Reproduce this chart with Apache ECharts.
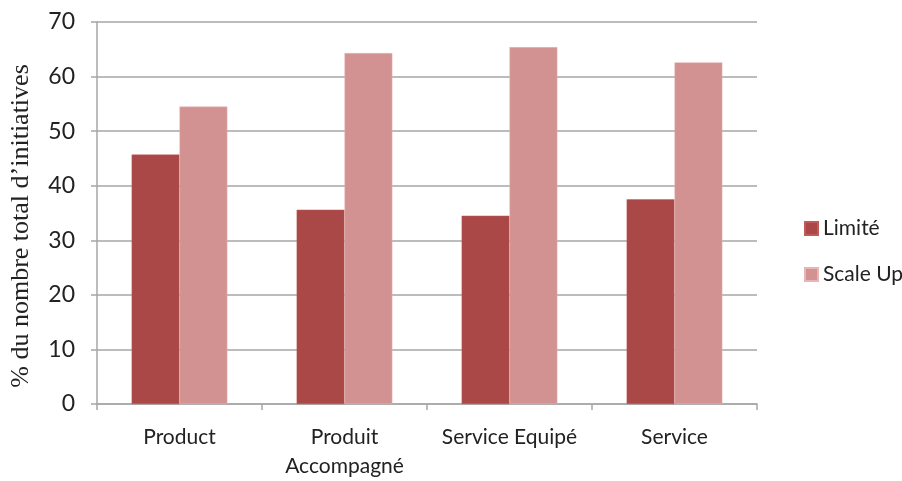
<!DOCTYPE html>
<html>
<head>
<meta charset="utf-8">
<script src="https://cdn.jsdelivr.net/npm/echarts@6/dist/echarts.min.js"></script>
<style>
  html, body { margin: 0; padding: 0; background: #fff; }
  #chart { width: 902px; height: 481px; }
</style>
</head>
<body>
<div id="chart"></div>
<script>
// categories and values
const categories = ['Product', 'Produit\nAccompagné', 'Service Equipé', 'Service']
const limiteValues = [45.7, 35.6, 34.5, 37.5]
const scaleUpValues = [54.5, 64.3, 65.4, 62.6]
const yTicks = { min: 0, max: 70, interval: 10 }

const gridColor = '#a6a6a6'
const labelFont = 'Lato, "Open Sans", sans-serif'

let myChart = echarts.init(document.getElementById('chart'))
let option = {
  animation: false,
  grid: {
    left: 97,
    right: 145,
    top: 22,
    bottom: 72,
    containLabel: false
  },
  legend: {
    orient: 'vertical',
    left: 799,
    top: 213,
    itemGap: 25,
    itemWidth: 13,
    itemHeight: 13,
    icon: 'rect',
    textStyle: {
      fontFamily: labelFont,
      fontSize: 21,
      color: '#222'
    },
    data: ['Limité', 'Scale Up']
  },
  xAxis: {
    type: 'category',
    data: categories,
    axisLine: { lineStyle: { color: gridColor, width: 1.5 } },
    axisTick: { show: true, length: 6, lineStyle: { color: gridColor, width: 1.5 } },
    axisLabel: {
      margin: 19,
      fontFamily: labelFont,
      fontSize: 21,
      lineHeight: 29,
      color: '#222',
      interval: 0
    }
  },
  yAxis: {
    type: 'value',
    min: yTicks.min,
    max: yTicks.max,
    interval: yTicks.interval,
    name: '% du nombre total d\u2019initiatives',
    nameLocation: 'middle',
    nameGap: 63,
    nameTextStyle: {
      fontFamily: '"Liberation Serif", "DejaVu Serif", serif',
      fontSize: 26,
      color: '#222',
      padding: [0, 26, 0, 0]
    },
    axisLine: { show: true, lineStyle: { color: gridColor, width: 1.5 } },
    axisTick: { show: true, length: 6, lineStyle: { color: gridColor, width: 1.5 } },
    axisLabel: {
      margin: 22,
      fontFamily: labelFont,
      fontSize: 23,
      color: '#222'
    },
    splitLine: { lineStyle: { color: gridColor, width: 1.5 } }
  },
  series: [
    {
      name: 'Limité',
      type: 'bar',
      data: limiteValues,
      barGap: '0%',
      barCategoryGap: '42%',
      itemStyle: { color: '#a94846', borderColor: '#c25a58', borderWidth: 0.5 }
    },
    {
      name: 'Scale Up',
      type: 'bar',
      data: scaleUpValues,
      barGap: '0%',
      barCategoryGap: '42%',
      itemStyle: { color: '#d39292', borderColor: '#e8b4b4', borderWidth: 0.5 }
    }
  ]
}
myChart.setOption(option)
</script>
</body>
</html>
